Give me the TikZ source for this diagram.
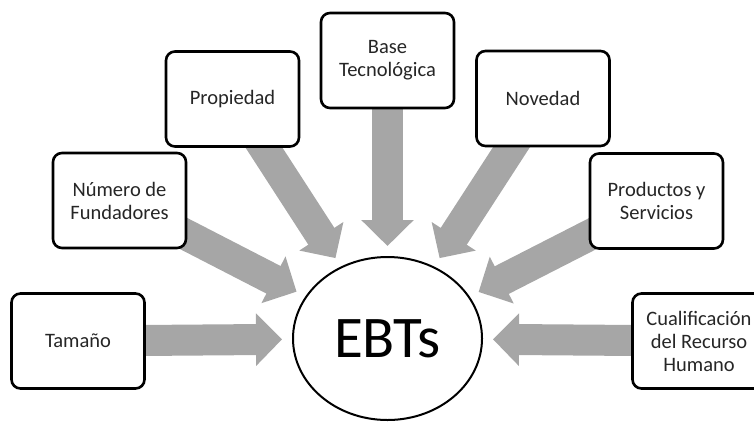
\documentclass[tikz,border=0pt]{standalone}
\usepackage{fontspec}
\setmainfont{Carlito}
\usetikzlibrary{shapes.geometric,arrows.meta,backgrounds}

\definecolor{arrowgray}{HTML}{A6A6A6}

\tikzset{
  factor/.style={draw=black, line width=2.6pt, fill=white, rounded corners=9pt,
    minimum width=133pt, minimum height=95pt, inner sep=2pt, align=center,
    font=\fontsize{20.5}{23}\selectfont, text=black!85},
  core/.style={ellipse, draw=black, line width=2pt, fill=white,
    minimum width=189pt, minimum height=163pt, inner sep=0pt,
    font=\fontsize{59}{60}\selectfont},
  bigarrow/.style={draw=arrowgray, line width=31pt,
    -{Triangle[width=51pt,length=26pt]}, arrowgray, shorten >=10pt}
}

\begin{document}
\begin{tikzpicture}[x=1pt, y=-1pt]
  \useasboundingbox (0,0) rectangle (754,421);
  \clip (0,0) rectangle (754,421);

  % central concept
  \node[core] (ebt) at (387.5,338.5) {EBTs};

  % surrounding factors
  \node[factor] (tam)  at (78,341)     {Tamaño};
  \node[factor] (num)  at (119.5,200.5) {Número de\\Fundadores};
  \node[factor] (prop) at (232.5,99)   {Propiedad};
  \node[factor] (base) at (387.5,60.5) {Base\\Tecnológica};
  \node[factor] (nov)  at (543,98.5)   {Novedad};
  \node[factor] (prod) at (656.5,201)  {Productos y\\Servicios};
  \node[factor] (cual) at (699,341)    {Cualificación\\del Recurso\\Humano};

  % block arrows pointing at the centre, drawn beneath the boxes
  \begin{scope}[on background layer]
    \foreach \src in {tam,num,prop,base,nov,prod,cual}
      \draw[bigarrow] (\src.center) -- (ebt);
  \end{scope}
\end{tikzpicture}
\end{document}
